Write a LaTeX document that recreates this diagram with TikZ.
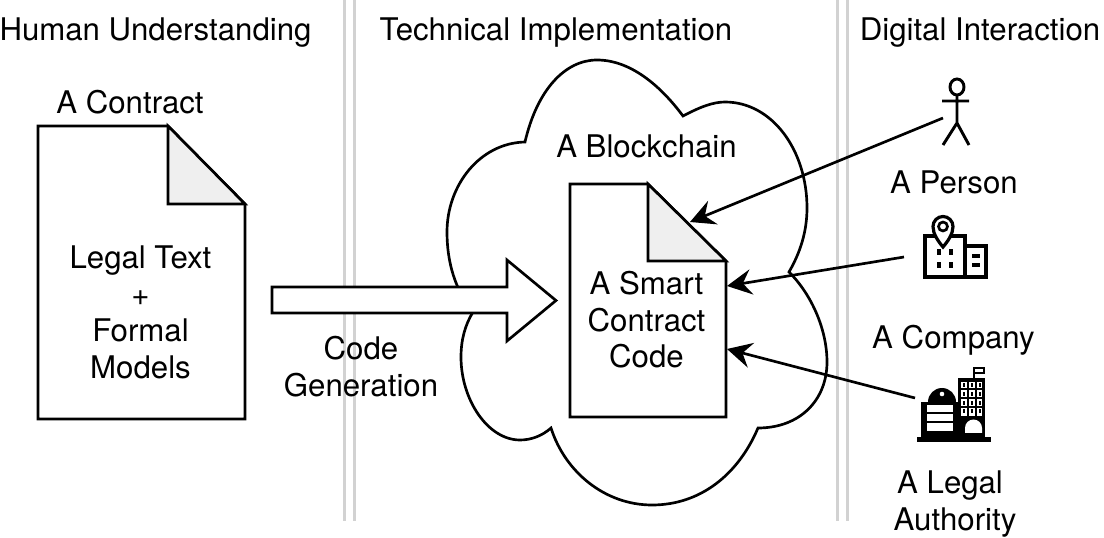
\documentclass[tikz,border=0pt]{standalone}
\usepackage{fontspec}
\setmainfont{TeX Gyre Heros}
\usetikzlibrary{arrows.meta}
\definecolor{foldgray}{HTML}{EFEFEF}
\definecolor{sepgray}{HTML}{D2D2D2}
\tikzset{
  lbl/.style={inner sep=0pt,align=center,font=\fontsize{23.4}{27.4}\selectfont,text=black},
  ln/.style={draw=black,line width=2pt,line join=miter},
  sep/.style={draw=sepgray,line width=2.4pt},
  conn/.style={draw=black,line width=2pt,-{Stealth[length=18.5pt,width=19pt,inset=6.5pt]}},
  ico/.style={draw=black,line width=2.2pt}
}
\begin{document}
\begin{tikzpicture}[x=0.75pt,y=-0.75pt]
\useasboundingbox (0,0) rectangle (1104,538);
% separators
\foreach \x in {344.3,354.3,837.5,847.7}{\draw[sep] (\x,0) -- (\x,521);}
% cloud
\draw[ln,fill=white] (473,312)
  .. controls (455,290) and (447,262) .. (447,232)
  .. controls (447,185) and (480,143) .. (525,142)
  .. controls (537,90) and (565,60) .. (597,60)
  .. controls (630,60) and (660,85) .. (683,116)
  .. controls (700,107) and (713,102) .. (725,102)
  .. controls (772,102) and (807,150) .. (807,208)
  .. controls (807,232) and (800,253) .. (789,272)
  .. controls (812,295) and (827,330) .. (827,362)
  .. controls (827,400) and (800,428) .. (758,428)
  .. controls (738,475) and (700,505) .. (652,505)
  .. controls (605,505) and (565,472) .. (551,428)
  .. controls (542,436) and (531,440) .. (520,440)
  .. controls (488,440) and (461,400) .. (461,357)
  .. controls (461,340) and (465,325) .. (473,312) -- cycle;
% left document
\draw[ln,fill=white] (38,126) -- (168,126) -- (245,204) -- (245,419) -- (38,419) -- cycle;
\draw[ln,fill=foldgray] (168,126) -- (245,204) -- (168,204) -- cycle;
% block arrow
\draw[ln,fill=white] (272,287) -- (507,287) -- (507,260) -- (556,300.5) -- (507,341) -- (507,313) -- (272,313) -- cycle;
% smart document
\draw[ln,fill=white] (570,184) -- (648,184) -- (726,261) -- (726,417) -- (570,417) -- cycle;
\draw[ln,fill=foldgray] (648,184) -- (726,261) -- (648,261) -- cycle;
% person icon
\draw[ico] (957,87) ellipse (7 and 8);
\draw[ico] (957,95) -- (957,123) (942,101) -- (969,101) (943,145) -- (957,123) -- (969,145);
% company icon
\draw[ico,line width=2.5pt] (925,236) rectangle (965,277);
\draw[ico,line width=2.5pt] (965,246) rectangle (986,277);
\draw[ico,fill=white,line width=2.4pt] (943,247) .. controls (938,241) and (933,234) .. (933,226.5) arc[start angle=180,end angle=360,radius=10] .. controls (953,234) and (948,241) .. (943,247) -- cycle;
\draw[ico,line width=2pt] (943,226.5) circle (4.5);
\foreach \x in {938.5,950.5}\foreach \y in {252,265}{\fill (\x-2,\y-3) rectangle (\x+2,\y+3);}
\foreach \y in {256.5,265}{\fill (971.5,\y-2) rectangle (979.5,\y+2);}
% legal authority icon
\fill (917,437) rectangle (991,442);
\fill (921,402) rectangle (958,438);
\fill (928,402) arc[start angle=180,end angle=360,radius=14];
\fill[white] (942,394) circle (2.3);
\fill[white] (927,405) rectangle (953,431);
\fill (927,412.5) rectangle (953,414.5);
\fill (927,421) rectangle (953,423);
\fill (958,378) rectangle (985,438);
\fill[white] (961,382) rectangle (982,416);
\foreach \x in {963.5,972,980}\foreach \y in {385,394,403,411.5}{\fill (\x-1,\y-2) rectangle (\x+1,\y+2);}
\foreach \x in {967.7,976}{\fill (\x-1,382) rectangle (\x+1,416);}
\foreach \y in {389.5,398.5,407}{\fill (961,\y-1) rectangle (982,\y+1);}
\fill[white] (965,433) -- (965,428) arc[start angle=180,end angle=360,radius=8.5] -- (982,433) -- cycle;
\draw[black,line width=1.5pt] (974,378) -- (974,368.5) -- (984,368.5) -- (984,373) -- (974,373);
% labels
\node[lbl] (t1) at (155.5,32.5) {Human Understanding};
\node[lbl] (t2) at (556,32.5) {Technical Implementation};
\node[lbl] (t3) at (980,32.5) {Digital Interaction};
\node[lbl] (contract) at (130,102) {A Contract};
\node[lbl] (legal) at (140.5,312.5) {Legal Text\\+\\Formal\\Models};
\node[lbl] (codegen) at (361,366.5) {Code\\Generation};
\node[lbl] (chain) at (646.5,146) {A Blockchain};
\node[lbl] (smart) at (646.5,320) {A Smart\\Contract\\Code};
\node[lbl] (person) at (954,182.5) {A Person};
\node[lbl] (company) at (953.5,340) {A Company};
\node[lbl] (authA) at (950,486) {A Legal};
\node[lbl] (authB) at (955,523) {Authority};
% connectors
\coordinate (pA) at (943,118);
\coordinate (pB) at (690,222);
\coordinate (cA) at (904,257);
\coordinate (cB) at (727,286);
\coordinate (aA) at (915,398);
\coordinate (aB) at (727,349);
\draw[conn] (pA) -- (pB);
\draw[conn] (cA) -- (cB);
\draw[conn] (aA) -- (aB);
\end{tikzpicture}
\end{document}
